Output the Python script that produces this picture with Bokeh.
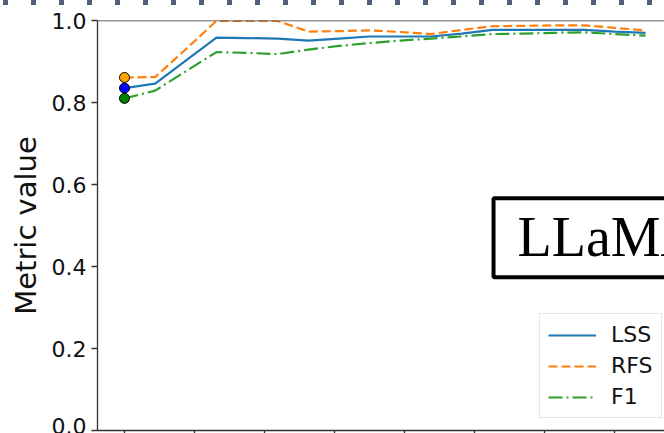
from bokeh.plotting import figure
from bokeh.models import (Range1d, FixedTicker, PrintfTickFormatter, Span, Label,
                          Legend, LegendItem, Div, CustomJSTickFormatter)
from bokeh.layouts import column
from bokeh.embed import file_html
from bokeh.resources import INLINE

# ---- data ----
steps = list(range(18))
lss = [0.835, 0.846, 0.902, 0.958, 0.957, 0.956, 0.951, 0.956, 0.961, 0.961,
       0.961, 0.968, 0.977, 0.977, 0.977, 0.977, 0.973, 0.970]
rfs = [0.861, 0.862, 0.930, 0.999, 0.999, 0.999, 0.973, 0.974, 0.976, 0.972,
       0.967, 0.977, 0.986, 0.987, 0.988, 0.988, 0.982, 0.976]
f1 = [0.810, 0.829, 0.876, 0.923, 0.921, 0.918, 0.929, 0.938, 0.945, 0.951,
      0.956, 0.961, 0.967, 0.968, 0.970, 0.971, 0.967, 0.963]
series_names = ["LSS", "RFS", "F1"]
y_ticks = [0.0, 0.2, 0.4, 0.6, 0.8, 1.0]
x_ticks = [0, 2.284, 4.568, 6.852, 9.136, 11.42, 13.704, 15.988]
panel_label = "LLaMA"
y_title = "Metric value"

# ---- thin dashed strip (border of the source page) ----
strip = Div(text="", width=664, height=5, margin=(0, 0, 0, 0),
            styles={"background": "repeating-linear-gradient(to right, "
                                   "transparent 0px, transparent 3px, "
                                   "#4f5f7c 3px, #4f5f7c 8px, "
                                   "transparent 8px, transparent 28px)"})

# ---- main chart ----
p = figure(width=664, height=428, x_range=Range1d(-0.881, 17.618),
           y_range=Range1d(0, 1), output_backend="svg", toolbar_location=None,
           min_border_left=97, min_border_right=0, min_border_top=15,
           min_border_bottom=0, margin=(0, 0, 0, 0))
p.outline_line_color = None
p.grid.visible = False
p.background_fill_color = "white"
p.border_fill_color = "white"

ax_col = "#333333"
p.yaxis.ticker = FixedTicker(ticks=y_ticks)
p.yaxis.formatter = PrintfTickFormatter(format="%.1f")
p.yaxis.major_label_text_font = "DejaVu Sans"
p.yaxis.major_label_text_font_size = "22px"
p.yaxis.major_label_text_color = "#111111"
p.yaxis.major_tick_out = 6
p.yaxis.major_tick_in = 0
p.yaxis.minor_tick_out = 0
p.yaxis.minor_tick_in = 0
p.yaxis.major_label_standoff = 5
p.yaxis.axis_line_color = ax_col
p.yaxis.axis_line_width = 1.3
p.yaxis.major_tick_line_color = ax_col
p.yaxis.major_tick_line_width = 1.3
p.yaxis.axis_label = y_title
p.yaxis.axis_label_text_font = "DejaVu Sans"
p.yaxis.axis_label_text_font_size = "29px"
p.yaxis.axis_label_text_font_style = "normal"
p.yaxis.axis_label_text_color = "#111111"
p.yaxis.axis_label_standoff = 6

p.xaxis.ticker = FixedTicker(ticks=x_ticks)
p.xaxis.formatter = CustomJSTickFormatter(code="return ''")
p.xaxis.major_label_text_font_size = "1px"
p.xaxis.major_label_standoff = 0
p.xaxis.major_tick_out = 3
p.xaxis.major_tick_in = 0
p.xaxis.minor_tick_out = 0
p.xaxis.minor_tick_in = 0
p.xaxis.axis_line_color = ax_col
p.xaxis.axis_line_width = 1.3
p.xaxis.major_tick_line_color = ax_col
p.xaxis.major_tick_line_width = 1.3

p.add_layout(Span(location=1.0, dimension="width", line_color=ax_col,
                  line_width=1.3))

r_lss = p.line(steps, lss, line_color="#1f77b4", line_width=2.2)
r_rfs = p.line(steps, rfs, line_color="#ff7f0e", line_width=2.2, line_dash="9 4")
r_f1 = p.line(steps, f1, line_color="#2ca02c", line_width=2.2,
              line_dash="14 4 2 4")

p.scatter([steps[0]], [rfs[0]], size=10, fill_color="orange", line_color="black",
          line_width=1)
p.scatter([steps[0]], [lss[0]], size=10, fill_color="blue", line_color="black",
          line_width=1)
p.scatter([steps[0]], [f1[0]], size=10, fill_color="green", line_color="black",
          line_width=1)

legend = Legend(items=[LegendItem(label=series_names[0], renderers=[r_lss]),
                       LegendItem(label=series_names[1], renderers=[r_rfs]),
                       LegendItem(label=series_names[2], renderers=[r_f1])],
                location=(442, 12))
legend.label_text_font = "DejaVu Sans"
legend.label_text_font_size = "22px"
legend.label_text_color = "#111111"
legend.glyph_width = 48
legend.glyph_height = 24
legend.label_height = 24
legend.label_standoff = 15
legend.spacing = 6
legend.padding = 8
legend.margin = 0
legend.border_line_color = "#cccccc"
legend.border_line_width = 1
legend.background_fill_color = "white"
legend.background_fill_alpha = 1
p.add_layout(legend)

p.add_layout(Label(x=12.04, y=0.47, text=panel_label,
                   text_font="Liberation Serif", text_font_size="56px",
                   text_color="black", text_align="left", text_baseline="middle",
                   border_line_color="black", border_line_width=4,
                   background_fill_color="white",
                   padding=dict(left=24, right=30, top=8, bottom=9)))

layout = column(strip, p, spacing=0)
open("out.html", "w").write(file_html(layout, INLINE))
